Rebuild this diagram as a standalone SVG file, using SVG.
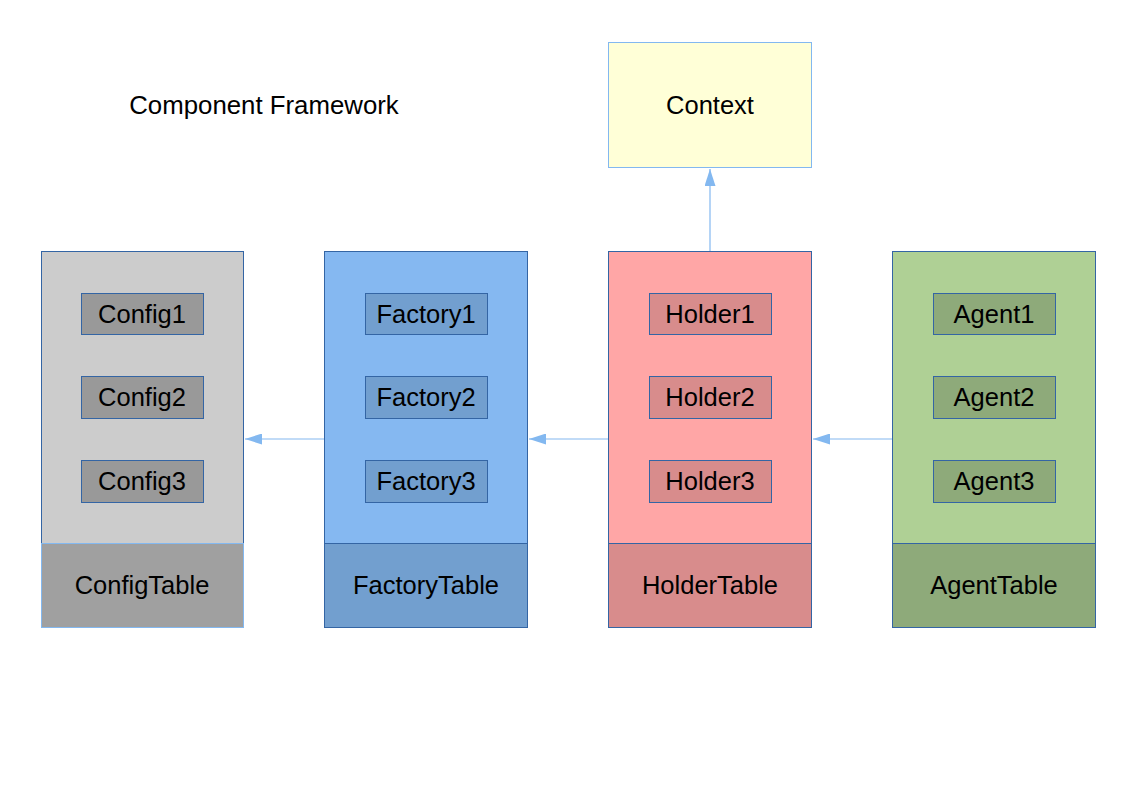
<svg xmlns="http://www.w3.org/2000/svg" width="1123" height="794" viewBox="0 0 1123 794">
<style>
text{font-family:"Liberation Sans",Arial,sans-serif;fill:#000;text-anchor:middle}
.lbl{font-size:25.5px}
.col{stroke:#3465a4;stroke-width:1}
.conn{stroke:#83b8f0;stroke-width:1.2;fill:none}
</style>
<defs>
<marker id="ah" viewBox="0 0 17 11" refX="17" refY="5.5" markerWidth="17" markerHeight="11" markerUnits="userSpaceOnUse" orient="auto">
<path d="M0,0 L17,5.5 L0,11 Z" fill="#83b8f0"/>
</marker>
</defs>
<rect width="1123" height="794" fill="#fff"/>
<text id="title" x="264" y="114" style="font-size:25.8px">Component Framework</text>

<g id="context">
<rect x="608.5" y="42.5" width="203" height="125" fill="#ffffd7" stroke="#83b8f0"/>
<text class="lbl" x="710" y="114">Context</text>
</g>

<g id="config">
<rect class="col" x="41.5" y="251.5" width="202" height="292" fill="#cccccc"/>
<rect x="41.5" y="543.5" width="202" height="84" fill="#a0a0a0" stroke="#83b8f0"/>
<text class="lbl" x="142" y="594">ConfigTable</text>
<rect class="col" x="81.5" y="293.5" width="122" height="41" fill="#999999"/>
<text class="lbl" x="142" y="323">Config1</text>
<rect class="col" x="81.5" y="376.5" width="122" height="42" fill="#999999"/>
<text class="lbl" x="142" y="406">Config2</text>
<rect class="col" x="81.5" y="460.5" width="122" height="42" fill="#999999"/>
<text class="lbl" x="142" y="490">Config3</text>
</g>

<g id="factory">
<rect class="col" x="324.5" y="251.5" width="203" height="292" fill="#85b8f1"/>
<rect class="col" x="324.5" y="543.5" width="203" height="84" fill="#729fcf"/>
<text class="lbl" x="426" y="594">FactoryTable</text>
<rect class="col" x="365.5" y="293.5" width="122" height="41" fill="#729fcf"/>
<text class="lbl" x="426" y="323">Factory1</text>
<rect class="col" x="365.5" y="376.5" width="122" height="42" fill="#729fcf"/>
<text class="lbl" x="426" y="406">Factory2</text>
<rect class="col" x="365.5" y="460.5" width="122" height="42" fill="#729fcf"/>
<text class="lbl" x="426" y="490">Factory3</text>
</g>

<g id="holder">
<rect class="col" x="608.5" y="251.5" width="203" height="292" fill="#ffa6a6"/>
<rect class="col" x="608.5" y="543.5" width="203" height="84" fill="#d88c8c"/>
<text class="lbl" x="710" y="594">HolderTable</text>
<rect class="col" x="649.5" y="293.5" width="122" height="41" fill="#d88c8c"/>
<text class="lbl" x="710" y="323">Holder1</text>
<rect class="col" x="649.5" y="376.5" width="122" height="42" fill="#d88c8c"/>
<text class="lbl" x="710" y="406">Holder2</text>
<rect class="col" x="649.5" y="460.5" width="122" height="42" fill="#d88c8c"/>
<text class="lbl" x="710" y="490">Holder3</text>
</g>

<g id="agent">
<rect class="col" x="892.5" y="251.5" width="203" height="292" fill="#afd095"/>
<rect class="col" x="892.5" y="543.5" width="203" height="84" fill="#8eaa7a"/>
<text class="lbl" x="994" y="594">AgentTable</text>
<rect class="col" x="933.5" y="293.5" width="122" height="41" fill="#8eaa7a"/>
<text class="lbl" x="994" y="323">Agent1</text>
<rect class="col" x="933.5" y="376.5" width="122" height="42" fill="#8eaa7a"/>
<text class="lbl" x="994" y="406">Agent2</text>
<rect class="col" x="933.5" y="460.5" width="122" height="42" fill="#8eaa7a"/>
<text class="lbl" x="994" y="490">Agent3</text>
</g>

<g id="connectors">
<line class="conn" x1="324" y1="439" x2="245" y2="439" marker-end="url(#ah)"/>
<line class="conn" x1="608" y1="439" x2="529" y2="439" marker-end="url(#ah)"/>
<line class="conn" x1="892" y1="439" x2="813" y2="439" marker-end="url(#ah)"/>
<line class="conn" x1="710" y1="251" x2="710" y2="169" marker-end="url(#ah)"/>
</g>
</svg>
